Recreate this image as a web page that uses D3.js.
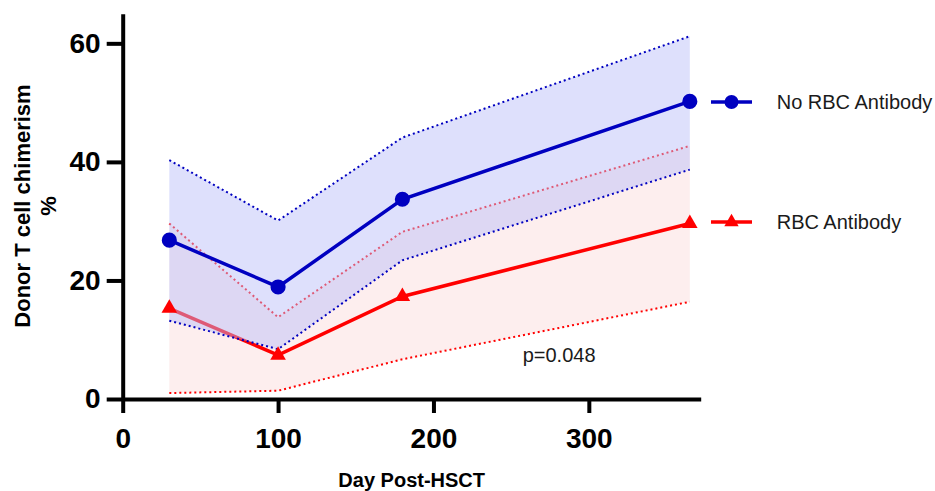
<!DOCTYPE html>
<html>
<head>
<meta charset="utf-8">
<script src="https://cdn.jsdelivr.net/npm/d3@7"></script>
<style>
    body { margin: 0; background: #fff; }
    svg { display: block; font-family: "Liberation Sans", Arial, sans-serif; }
</style>
</head>
<body>
<svg id="chart" width="935" height="491"></svg>
<script>
// values
const days        = [30, 100, 180, 365];
const noRbcMean   = [26.8, 18.9, 33.7, 50.2];
const noRbcUpper  = [40.3, 30.1, 44.1, 61.2];
const noRbcLower  = [13.2, 8.4, 23.4, 38.7];
const rbcMean     = [15.3, 7.4, 17.3, 29.6];
const rbcUpper    = [29.6, 13.8, 28.2, 42.7];
const rbcLower    = [1.0, 1.4, 6.7, 16.4];
const xTicks      = [0, 100, 200, 300];
const yTicks      = [0, 20, 40, 60];
const seriesNames = ["No RBC Antibody", "RBC Antibody"];
const pLabel      = "p=0.048";

const blue = "#0000c0", red = "#ff0000";

let svg = d3.select("#chart");

let x = d3.scaleLinear().domain([0, 372]).range([122.7, 700.7]);
let y = d3.scaleLinear().domain([0, 65]).range([399, 13.7]);

function rows(mean, upper, lower) {
    return days.map(function (d, i) {
        return {day: d, mean: mean[i], upper: upper[i], lower: lower[i]};
    });
}

let groups = [
    {name: seriesNames[0], color: blue, fill: "rgba(185,189,248,0.475)", symbol: d3.symbolCircle, size: 180,
     data: rows(noRbcMean, noRbcUpper, noRbcLower)},
    {name: seriesNames[1], color: red, fill: "#fdeeee", symbol: d3.symbolTriangle, size: 105,
     data: rows(rbcMean, rbcUpper, rbcLower)}
];

let band = d3.area()
             .x(function (d) { return x(d.day); })
             .y0(function (d) { return y(d.lower); })
             .y1(function (d) { return y(d.upper); });

let line = function (key) {
    return d3.line()
             .x(function (d) { return x(d.day); })
             .y(function (d) { return y(d[key]); });
};

// red drawn first so the translucent blue band sits over it
let order = [groups[1], groups[0]];
order.forEach(function (g) {
    svg.append("path")
       .attr("d", band(g.data))
       .attr("fill", g.fill);
    ["upper", "lower"].forEach(function (k) {
        svg.append("path")
           .attr("d", line(k)(g.data))
           .attr("fill", "none")
           .attr("stroke", g.color)
           .attr("stroke-width", 2)
           .attr("stroke-dasharray", "2,3");
    });
    svg.append("path")
       .attr("d", line("mean")(g.data))
       .attr("fill", "none")
       .attr("stroke", g.color)
       .attr("stroke-width", 3.5);
});

// markers on top
order.forEach(function (g) {
    svg.selectAll(null)
       .data(g.data)
       .enter()
       .append("path")
       .attr("transform", function (d) { return "translate(" + x(d.day) + "," + y(d.mean) + ")"; })
       .attr("d", d3.symbol().type(g.symbol).size(g.size))
       .attr("fill", g.color);
});

// axes
let xAxis = svg.append("g")
               .attr("transform", "translate(0," + y(0) + ")")
               .call(d3.axisBottom(x).tickValues(xTicks).tickSize(14).tickSizeOuter(0).tickPadding(15));
let yAxis = svg.append("g")
               .attr("transform", "translate(" + x(0) + ",0)")
               .call(d3.axisLeft(y).tickValues(yTicks).tickSize(16).tickSizeOuter(0).tickPadding(6));

[xAxis, yAxis].forEach(function (a) {
    a.selectAll("path, line").attr("stroke", "#000").attr("stroke-width", 4);
    a.selectAll("text")
     .attr("fill", "#000")
     .style("font-size", "28px")
     .style("font-weight", "bold")
     .style("font-family", "'Liberation Sans', Arial, sans-serif");
});

// axis titles
svg.append("text")
   .attr("x", 411.7)
   .attr("y", 487)
   .attr("text-anchor", "middle")
   .style("font-size", "20px")
   .style("font-weight", "bold")
   .text("Day Post-HSCT");

let yt = svg.append("text")
            .attr("transform", "translate(30,206) rotate(-90)")
            .attr("text-anchor", "middle")
            .style("font-size", "22px")
            .style("font-weight", "bold");
yt.append("tspan").attr("x", 0).attr("y", 0).text("Donor T cell chimerism");
yt.append("tspan").attr("x", 0).attr("y", 26).text("%");

// p value
svg.append("text")
   .attr("x", 522.7)
   .attr("y", 362)
   .style("font-size", "20px")
   .attr("fill", "#1a1a1a")
   .text(pLabel);

// legend
let legendY = [102, 222];
groups.forEach(function (g, i) {
    let lg = svg.append("g").attr("transform", "translate(0," + legendY[i] + ")");
    lg.append("line")
      .attr("x1", 711).attr("x2", 752)
      .attr("stroke", g.color)
      .attr("stroke-width", 3.5);
    lg.append("path")
      .attr("transform", "translate(731.5,0)")
      .attr("d", d3.symbol().type(g.symbol).size(g.size * 0.85))
      .attr("fill", g.color);
    lg.append("text")
      .attr("x", 776.7)
      .attr("dy", "0.35em")
      .style("font-size", "20px")
      .attr("fill", "#1a1a1a")
      .text(g.name);
});
</script>
</body>
</html>
